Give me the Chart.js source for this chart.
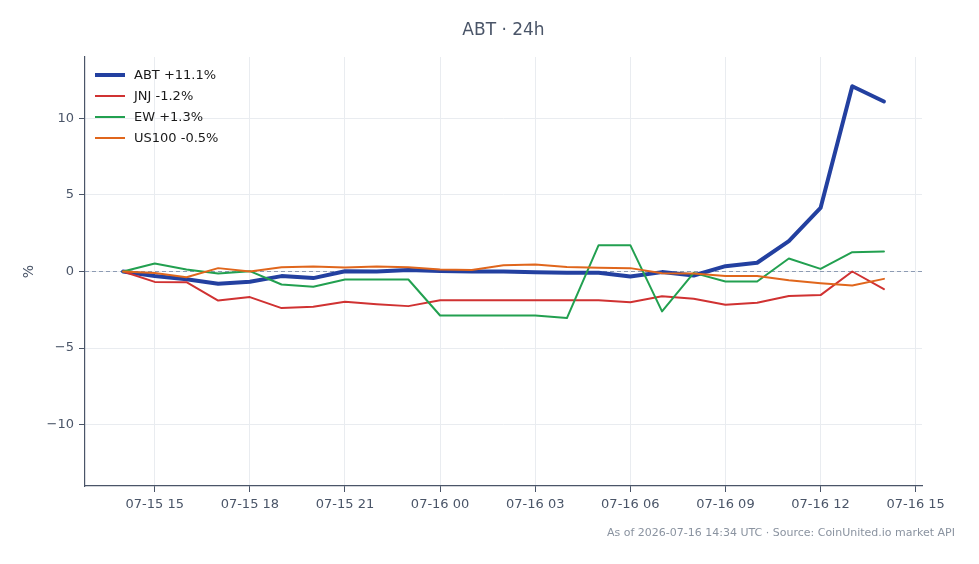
<!DOCTYPE html>
<html>
<head>
<meta charset="utf-8">
<script src="https://cdn.jsdelivr.net/npm/chart.js@4.4.1/dist/chart.umd.min.js"></script>
<style>
  html, body { margin: 0; padding: 0; background: #fff; }
</style>
</head>
<body>
<canvas id="chart" width="979" height="564"></canvas>
<script>
// hourly samples, UTC
const times = [
  '2026-07-15T14:00', '2026-07-15T15:00', '2026-07-15T16:00', '2026-07-15T17:00', '2026-07-15T18:00',
  '2026-07-15T19:00', '2026-07-15T20:00', '2026-07-15T21:00', '2026-07-15T22:00', '2026-07-15T23:00',
  '2026-07-16T00:00', '2026-07-16T01:00', '2026-07-16T02:00', '2026-07-16T03:00', '2026-07-16T04:00',
  '2026-07-16T05:00', '2026-07-16T06:00', '2026-07-16T07:00', '2026-07-16T08:00', '2026-07-16T09:00',
  '2026-07-16T10:00', '2026-07-16T11:00', '2026-07-16T12:00', '2026-07-16T13:00', '2026-07-16T14:00'
];

// % change vs first sample
const abt   = [0, -0.3, -0.5, -0.8, -0.67, -0.3, -0.43, 0.02, 0.0, 0.1, 0.03, 0.0, 0.0, -0.05, -0.08, -0.08, -0.32, -0.04, -0.26, 0.35, 0.57, 1.98, 4.15, 12.09, 11.1];
const jnj   = [0, -0.68, -0.7, -1.9, -1.67, -2.39, -2.3, -1.98, -2.13, -2.26, -1.87, -1.87, -1.87, -1.87, -1.87, -1.87, -2.0, -1.62, -1.78, -2.17, -2.04, -1.6, -1.54, 0.0, -1.15];
const ew    = [0, 0.52, 0.13, -0.13, 0.02, -0.85, -1.0, -0.52, -0.52, -0.52, -2.87, -2.87, -2.87, -2.87, -3.04, 1.72, 1.72, -2.6, -0.09, -0.65, -0.65, 0.85, 0.17, 1.26, 1.3];
const us100 = [0, -0.1, -0.37, 0.22, 0.0, 0.28, 0.33, 0.26, 0.33, 0.28, 0.13, 0.1, 0.41, 0.45, 0.3, 0.24, 0.22, -0.11, -0.13, -0.3, -0.3, -0.57, -0.76, -0.91, -0.48];

const seriesLabels = ['ABT +11.1%', 'JNJ -1.2%', 'EW +1.3%', 'US100 -0.5%'];

// tick positions, hours after the first sample
const xTickHours = [1, 4, 7, 10, 13, 16, 19, 22, 25];
const yTickValues = [-10, -5, 0, 5, 10];

const titleText = 'ABT · 24h';
const footerText = 'As of 2026-07-16 14:34 UTC · Source: CoinUnited.io market API';

const t0 = Date.parse(times[0] + 'Z');
const hours = times.map(t => (Date.parse(t + 'Z') - t0) / 3600e3);
const toPoints = arr => arr.map((v, i) => ({ x: hours[i], y: v }));

function hourLabel(h) {
    const iso = new Date(t0 + h * 3600e3).toISOString();
    return iso.slice(5, 10) + ' ' + iso.slice(11, 13);
}

const textColor = '#4a5568';
const FONT = 'DejaVu Sans';

const decor = {
    id: 'decor',
    beforeDatasetsDraw(chart) {
        // dashed zero line
        const { ctx, chartArea, scales } = chart;
        const y0 = scales.y.getPixelForValue(0);
        ctx.save();
        ctx.strokeStyle = '#8d9bb3';
        ctx.lineWidth = 1;
        ctx.setLineDash([4, 3]);
        ctx.beginPath();
        ctx.moveTo(chartArea.left, y0);
        ctx.lineTo(chartArea.right, y0);
        ctx.stroke();
        ctx.restore();
    },
    afterDraw(chart) {
        const { ctx, chartArea } = chart;
        ctx.save();
        // title + footer
        ctx.fillStyle = textColor;
        ctx.font = `17px "${FONT}"`;
        ctx.textAlign = 'center';
        ctx.textBaseline = 'middle';
        ctx.fillText(titleText, (chartArea.left + chartArea.right) / 2, 31);
        ctx.fillStyle = '#8a93a0';
        ctx.font = `11px "${FONT}"`;
        ctx.textAlign = 'right';
        ctx.fillText(footerText, 955, 533);

        // legend, top-left inside the plot
        ctx.textAlign = 'left';
        ctx.font = `13px "${FONT}"`;
        ctx.lineCap = 'butt';
        const lx = chartArea.left + 10;
        chart.data.datasets.forEach((ds, i) => {
            const ly = chartArea.top + 18 + i * 21;
            ctx.strokeStyle = ds.borderColor;
            ctx.lineWidth = ds.borderWidth;
            ctx.beginPath();
            ctx.moveTo(lx, ly);
            ctx.lineTo(lx + 30, ly);
            ctx.stroke();
            ctx.fillStyle = '#1a1a1a';
            ctx.fillText(ds.label, lx + 39, ly + 1);
        });
        ctx.restore();
    }
};

const config = {
    type: 'line',
    data: {
        datasets: [
            { label: seriesLabels[0], data: toPoints(abt),   borderColor: '#2340a0', backgroundColor: '#2340a0', borderWidth: 4, order: 3 },
            { label: seriesLabels[1], data: toPoints(jnj),   borderColor: '#d03232', backgroundColor: '#d03232', borderWidth: 2, order: 2 },
            { label: seriesLabels[2], data: toPoints(ew),    borderColor: '#22a050', backgroundColor: '#22a050', borderWidth: 2, order: 1 },
            { label: seriesLabels[3], data: toPoints(us100), borderColor: '#e0661c', backgroundColor: '#e0661c', borderWidth: 2, order: 0 },
        ]
    },
    options: {
        responsive: false,
        animation: false,
        events: [],
        elements: {
            point: { radius: 0 },
            line: { tension: 0, borderJoinStyle: 'round', borderCapStyle: 'round' }
        },
        layout: { padding: { top: 57, right: 57, bottom: 0, left: 0 } },
        plugins: {
            title: { display: false },
            tooltip: { enabled: false },
            legend: { display: false }
        },
        scales: {
            x: {
                type: 'linear',
                min: -1.2,
                max: 25.2,
                afterBuildTicks: scale => { scale.ticks = xTickHours.map(v => ({ value: v })); },
                afterFit: scale => { scale.height = 78; },
                grid: { color: '#e9ecf0', tickColor: textColor, tickLength: 6 },
                border: { color: textColor, width: 1.2 },
                ticks: {
                    color: textColor,
                    font: { family: FONT, size: 13 },
                    padding: 5,
                    maxRotation: 0,
                    autoSkip: false,
                    callback: v => hourLabel(v)
                }
            },
            y: {
                min: -14,
                max: 14,
                afterBuildTicks: scale => { scale.ticks = yTickValues.map(v => ({ value: v })); },
                afterFit: scale => { scale.width = 85; },
                grid: { color: '#e9ecf0', tickColor: textColor, tickLength: 6 },
                border: { color: textColor, width: 1.2 },
                ticks: {
                    color: textColor,
                    font: { family: FONT, size: 13 },
                    padding: 5,
                    callback: v => String(v).replace('-', '\u2212')
                },
                title: {
                    display: true,
                    text: '%',
                    color: textColor,
                    font: { family: FONT, size: 14 },
                    padding: { top: 21, bottom: 0 }
                }
            }
        }
    },
    plugins: [decor]
};

new Chart(document.getElementById('chart'), config);
</script>
</body>
</html>
